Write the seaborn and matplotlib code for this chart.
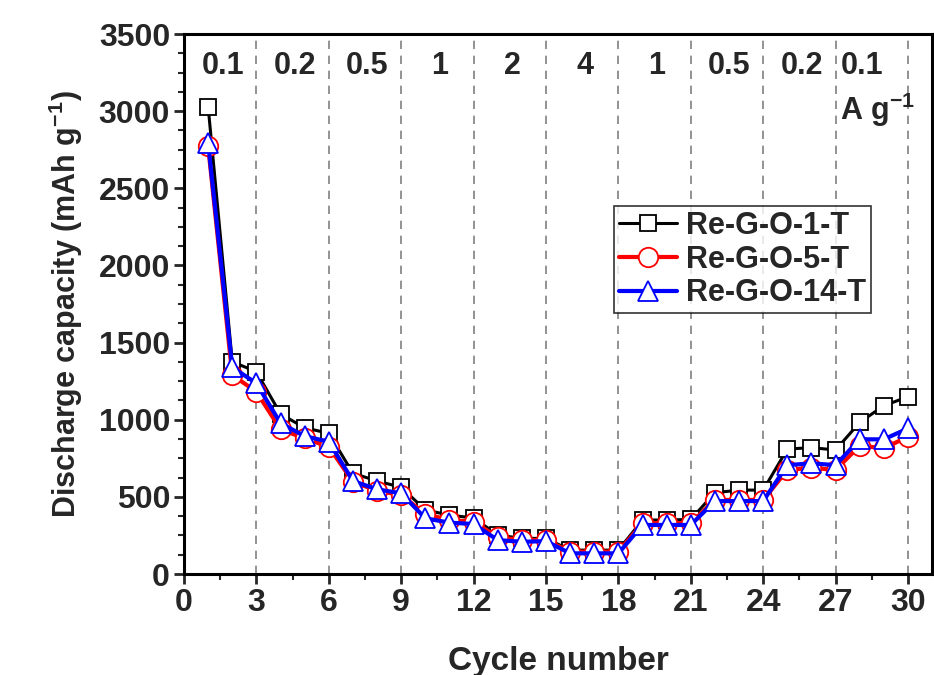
"""
Rate capability of Re-G-O samples: discharge capacity vs cycle number
at stepped current densities (0.1 -> 4 -> 0.1 A g-1).
"""
import numpy as np
import pandas as pd
import matplotlib
matplotlib.use("Agg")
import matplotlib.pyplot as plt
import seaborn as sns
from matplotlib.ticker import MultipleLocator

# Data
cycles = list(range(1, 31))
rego_1t = [3030, 1376, 1311, 1037, 948, 912, 653, 603, 562, 415,
           382, 363, 253, 231, 231, 155, 155, 155, 350, 350,
           354, 527, 544, 544, 810, 819, 804, 983, 1091, 1149]
rego_5t = [2774, 1290, 1181, 938, 879, 825, 598, 540, 512, 389,
           350, 339, 238, 220, 220, 145, 145, 145, 330, 330,
           330, 480, 480, 480, 674, 689, 674, 832, 815, 890]
rego_14t = [2795, 1340, 1236, 977, 894, 857, 603, 549, 523, 361,
            333, 324, 220, 209, 213, 134, 134, 134, 318, 318,
            318, 473, 473, 473, 706, 717, 706, 873, 873, 944]

series_names = ["Re-G-O-1-T", "Re-G-O-5-T", "Re-G-O-14-T"]
rate_labels = ["0.1", "0.2", "0.5", "1", "2", "4", "1", "0.5", "0.2", "0.1"]
segment_edges = list(range(3, 31, 3))

df = pd.DataFrame({
    "cycle": cycles * 3,
    "capacity": rego_1t + rego_5t + rego_14t,
    "sample": np.repeat(series_names, len(cycles)),
})

sns.set_style("ticks")
plt.rcParams["font.family"] = ["Liberation Sans", "DejaVu Sans"]
plt.rcParams["mathtext.fontset"] = "custom"
plt.rcParams["mathtext.rm"] = "Liberation Sans:bold"
plt.rcParams["mathtext.it"] = "Liberation Sans:bold"

fig = plt.figure(figsize=(9.34, 6.75), dpi=100)
ax = fig.add_axes([0.197, 0.1496, 0.801, 0.800])

# vertical dashed separators between current-density steps
for xe in segment_edges:
    ax.axvline(xe, color="#808080", ls=(0, (5, 4)), lw=1.2, zorder=0)

styles = {
    "Re-G-O-1-T": dict(color="black", marker="s", ms=12, lw=2.2),
    "Re-G-O-5-T": dict(color="red", marker="o", ms=14, lw=3.0),
    "Re-G-O-14-T": dict(color="blue", marker="^", ms=15, lw=3.0),
}
for name in series_names:
    st = styles[name]
    sns.lineplot(data=df[df["sample"] == name], x="cycle", y="capacity",
                 color=st["color"], marker=st["marker"], markersize=st["ms"],
                 linewidth=st["lw"], markerfacecolor="white",
                 markeredgecolor=st["color"], markeredgewidth=1.3,
                 label=name, ax=ax, zorder=3)

# current density labels on top of each segment
for i, lab in enumerate(rate_labels[:-1]):
    ax.text(segment_edges[i] - 1.5 + 0.1, 3290, lab, ha="center", va="center",
            fontsize=22, fontweight="bold")
ax.text(27.2, 3290, rate_labels[-1], ha="left", va="center",
        fontsize=22, fontweight="bold")
ax.text(27.2, 3010, r"A g$^{-1}$", ha="left", va="center",
        fontsize=22, fontweight="bold")

ax.set_xlim(0, 31)
ax.set_ylim(0, 3500)
ax.xaxis.set_major_locator(MultipleLocator(3))
ax.xaxis.set_minor_locator(MultipleLocator(1.5))
ax.yaxis.set_major_locator(MultipleLocator(500))
ax.yaxis.set_minor_locator(MultipleLocator(125))
ax.tick_params(which="major", direction="out", length=7, width=2,
               labelsize=23, pad=3)
ax.tick_params(which="minor", direction="out", length=4, width=1.5)
for lab in ax.get_xticklabels() + ax.get_yticklabels():
    lab.set_fontweight("bold")
for sp in ax.spines.values():
    sp.set_visible(True)
    sp.set_linewidth(2.2)
    sp.set_color("black")

ax.set_xlabel("Cycle number", fontsize=24, fontweight="bold", labelpad=20)
ax.set_ylabel(r"Discharge capacity (mAh g$^{-1}$)", fontsize=22,
              fontweight="bold", labelpad=10)

leg = ax.legend(loc="upper left", bbox_to_anchor=(0.575, 0.681),
                borderaxespad=0, fontsize=22, frameon=True, fancybox=False,
                edgecolor="black", handlelength=1.9, handletextpad=0.3,
                labelspacing=0.12, borderpad=0.15, numpoints=1)
leg.get_frame().set_linewidth(1.2)
for t in leg.get_texts():
    t.set_fontweight("bold")

fig.savefig("out.png", dpi=100)
print("Saved: out.png")
